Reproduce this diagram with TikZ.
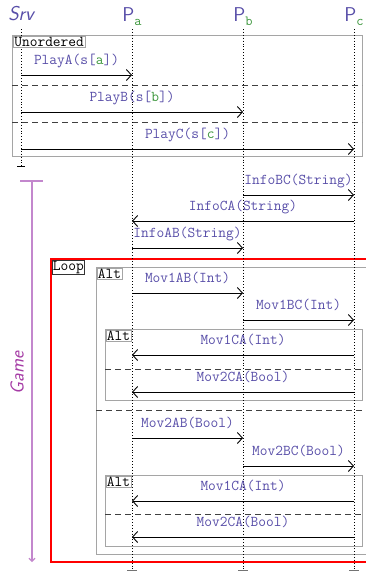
\documentclass[tikz,border=0pt]{standalone}
\usetikzlibrary{arrows.meta}
\definecolor{lbl}{RGB}{88,78,168}
\definecolor{grn}{RGB}{60,150,60}
\definecolor{gamec}{RGB}{165,60,165}
\definecolor{gameline}{RGB}{195,135,205}
\definecolor{boxgray}{RGB}{165,165,165}
\tikzset{
  msg/.style={line width=0.9pt, -{Straight Barb[length=5pt,width=11pt]}},
  mlabel/.style={text=lbl, font=\fontsize{15}{18}\selectfont\ttfamily, inner sep=0pt},
  lifeline/.style={dotted, line width=0.9pt},
  frame/.style={draw=boxgray, line width=0.9pt},
  flabel/.style={draw=boxgray, fill=white, line width=0.7pt, font=\fontsize{15}{16}\selectfont\ttfamily, inner sep=1pt, anchor=north west},
  sepline/.style={dash pattern=on 6pt off 4pt, line width=0.8pt, draw=black!75},
  head/.style={text=lbl, font=\fontsize{20}{24}\selectfont\sffamily, anchor=base, inner sep=0pt},
}
\newcommand\mymsg[5]{%
  \coordinate (#1s) at (#2,#4);
  \coordinate (#1e) at (#3,#4);
  \draw[msg] (#1s) -- (#1e) node[mlabel, midway, anchor=base, yshift=11pt] (#1l) {#5};
}
\newcommand\sub[1]{\textcolor{grn}{\raisebox{-4pt}{\fontsize{14}{14}\selectfont\ttfamily #1}}}
\begin{document}
\begin{tikzpicture}[x=1pt,y=-1pt]
\useasboundingbox (0,0) rectangle (365,571);
% headers
\node[head] (srv) at (21,20) {\itshape Srv};
\node[head] (pa) at (132,21) {P\sub{a}};
\node[head] (pb) at (243,21) {P\sub{b}};
\node[head] (pc) at (354,21) {P\sub{c}};
% frames
\draw[frame] (12,35) rectangle (362,156);
\draw[sepline] (12,85) -- (362,85);
\draw[sepline] (12,122) -- (362,122);

\draw[red, line width=2.4pt] (51,259) rectangle (385,562);
\draw[frame] (96,267) rectangle (385,554);
\draw[sepline] (96,410) -- (366,410);

\draw[frame] (105,329) rectangle (362,400);
\draw[sepline] (105,369) -- (362,369);

\draw[frame] (105,475) rectangle (362,546);
\draw[sepline] (105,514) -- (362,514);

% lifelines
\coordinate (srvtop) at (21,29); \coordinate (srvend) at (21,166);
\coordinate (patop) at (132,29); \coordinate (paend) at (132,570);
\coordinate (pbtop) at (243,29); \coordinate (pbend) at (243,570);
\coordinate (pctop) at (354,29); \coordinate (pcend) at (354,570);
\draw[lifeline] (srvtop) -- (srvend);
\draw[lifeline] (patop) -- (paend);
\draw[lifeline] (pbtop) -- (pbend);
\draw[lifeline] (pctop) -- (pcend);
\draw[line width=0.8pt] ([xshift=-4pt]srvend) -- ([xshift=4pt]srvend);
\draw[black!55, line width=0.8pt] ([xshift=-5pt]paend) -- ([xshift=5pt]paend);
\draw[black!55, line width=0.8pt] ([xshift=-5pt]pbend) -- ([xshift=5pt]pbend);
\draw[black!55, line width=0.8pt] ([xshift=-5pt]pcend) -- ([xshift=5pt]pcend);

% frame labels
\node[flabel, text=black] (unord) at (13,36) {Unordered};
\node[flabel, draw=black!80, text=black] (loop) at (51.5,259.5) {Loop};
\node[flabel, text=black] (alt0) at (96.5,267.5) {Alt};
\node[flabel, text=black] (alt1) at (105.5,329.5) {Alt};
\node[flabel, text=black] (alt2) at (105.5,475.5) {Alt};

% Game bracket
\coordinate (g1) at (20,181); \coordinate (g2) at (43,181);
\coordinate (g3) at (32,181); \coordinate (g4) at (32,562);
\draw[gameline, line width=1.1pt] (g1) -- (g2);
\draw[gameline, line width=1.1pt, -{Straight Barb[length=3pt,width=6pt]}] (g3) -- (g4);
\node[rotate=90, text=gamec, font=\fontsize{19}{22}\selectfont\sffamily\itshape, inner sep=0pt] (game) at (17,373) {Game};

% messages
\mymsg{m1}{21}{132}{75}{PlayA(s[\textcolor{grn}{a}])}
\mymsg{m2}{21}{243}{112}{PlayB(s[\textcolor{grn}{b}])}
\mymsg{m3}{21}{354}{149}{PlayC(s[\textcolor{grn}{c}])}
\mymsg{m4}{243}{354}{195}{InfoBC(String)}
\mymsg{m5}{354}{132}{221}{InfoCA(String)}
\mymsg{m6}{132}{243}{248}{InfoAB(String)}
\mymsg{m7}{132}{243}{293}{Mov1AB(Int)}
\mymsg{m8}{243}{354}{320}{Mov1BC(Int)}
\mymsg{m9}{354}{132}{355}{Mov1CA(Int)}
\mymsg{m10}{354}{132}{392}{Mov2CA(Bool)}
\mymsg{m11}{132}{243}{438}{Mov2AB(Bool)}
\mymsg{m12}{243}{354}{466}{Mov2BC(Bool)}
\mymsg{m13}{354}{132}{501}{Mov1CA(Int)}
\mymsg{m14}{354}{132}{537}{Mov2CA(Bool)}
\end{tikzpicture}
\end{document}
